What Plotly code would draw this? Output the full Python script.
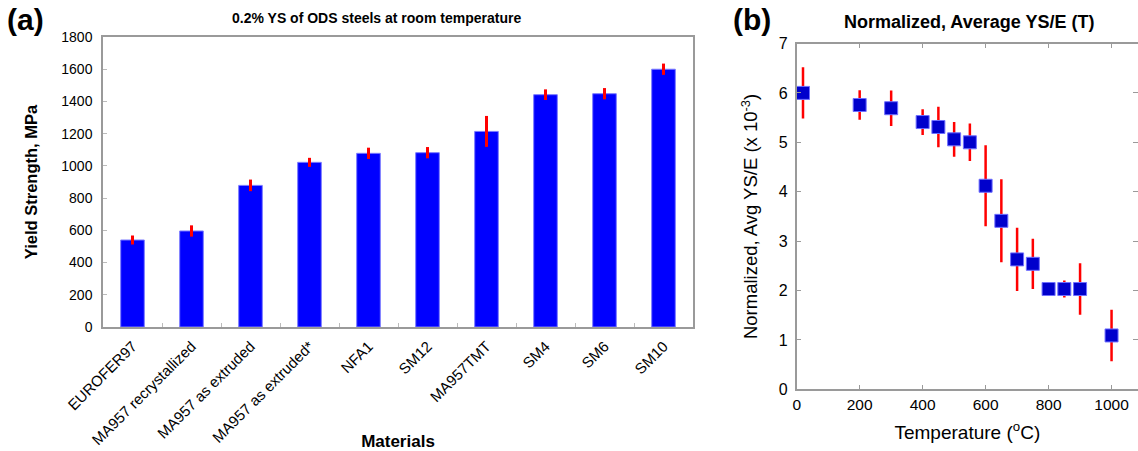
import plotly.graph_objects as go

materials = ["EUROFER97", "MA957 recrystallized", "MA957 as extruded", "MA957 as extruded*",
             "NFA1", "SM12", "MA957TMT", "SM4", "SM6", "SM10"]
ys_mpa = [540, 596, 879, 1022, 1078, 1082, 1214, 1442, 1448, 1600]
ys_err = [28, 35, 36, 28, 35, 35, 96, 33, 35, 35]

temps = [20, 200, 300, 400, 450, 500, 550, 600, 650, 700, 750, 800, 850, 900, 1000]
ys_e = [6.0, 5.755, 5.69, 5.41, 5.31, 5.06, 5.0, 4.12, 3.41, 2.63, 2.54, 2.03, 2.03, 2.03, 1.09]
ys_e_err = [0.52, 0.3, 0.36, 0.26, 0.41, 0.35, 0.38, 0.82, 0.84, 0.64, 0.51, 0.14, 0.17, 0.52, 0.52]

FONT = "Liberation Sans, Arial, sans-serif"
AX = "#9a9a9a"

fig = go.Figure()
fig.add_trace(go.Bar(
    x=materials, y=ys_mpa, width=0.4,
    marker=dict(color="#0000FF", line=dict(color="#7b7bff", width=1)),
    error_y=dict(type="data", array=ys_err, color="#FF0000", thickness=3, width=0),
    xaxis="x", yaxis="y", showlegend=False))

fig.add_trace(go.Scatter(
    x=temps, y=ys_e, mode="markers",
    marker=dict(symbol="square", size=13, color="#0000CC", line=dict(color="#6f6fff", width=1)),
    error_y=dict(type="data", array=ys_e_err, color="#FF0000", thickness=2.5, width=0),
    xaxis="x2", yaxis="y2", showlegend=False))

fig.update_layout(
    width=1138, height=451, margin=dict(l=0, r=0, t=0, b=0, autoexpand=False),
    paper_bgcolor="white", plot_bgcolor="white",
    font=dict(family=FONT, color="black"),
    xaxis=dict(domain=[103/1138, 693/1138], type="category", range=[-0.5, 9.5],
               showline=True, linecolor=AX, linewidth=1.5, mirror=True,
               ticks="inside", tickson="boundaries", ticklen=4, tickcolor="#bbbbbb",
               tickangle=-45, tickfont=dict(size=15), ticklabelstandoff=3,
               showgrid=False, anchor="y", automargin=False,
               title=dict(text="<b>Materials</b>", font=dict(size=17), standoff=2)),
    yaxis=dict(domain=[(451-327)/451, (451-37)/451], range=[0, 1800], dtick=200,
               showline=True, linecolor=AX, linewidth=1.5, mirror=True,
               ticks="inside", ticklen=4, tickcolor="#bbbbbb", tickfont=dict(size=14),
               ticklabelstandoff=6,
               showgrid=False, zeroline=False, anchor="x", automargin=False,
               title=dict(text="<b>Yield Strength, MPa</b>", font=dict(size=16.5), standoff=20)),
    xaxis2=dict(domain=[796.7/1138, 1.0], range=[0, 1084], dtick=200,
                showline=True, linecolor=AX, linewidth=1.5, mirror="allticks",
                ticks="inside", ticklen=5, tickcolor=AX, tickfont=dict(size=15.5),
                showgrid=False, zeroline=False, anchor="y2", automargin=False,
                title=dict(text="Temperature (<sup>o</sup>C)", font=dict(size=19), standoff=14)),
    yaxis2=dict(domain=[(451-389.3)/451, (451-43.5)/451], range=[0, 7], dtick=1,
                showline=True, linecolor=AX, linewidth=1.5, mirror="allticks",
                ticks="inside", ticklen=5, tickcolor=AX, tickfont=dict(size=16),
                ticklabelstandoff=4,
                showgrid=False, zeroline=False, anchor="x2", automargin=False,
                title=dict(text="Normalized, Avg YS/E (x 10<sup>-3</sup>)", font=dict(size=18.5), standoff=16)),
    annotations=[
        dict(text="<b>(a)</b>", x=5/1138, y=1-1/451, xref="paper", yref="paper",
             xanchor="left", yanchor="top", showarrow=False, font=dict(size=30)),
        dict(text="<b>(b)</b>", x=731/1138, y=1-1/451, xref="paper", yref="paper",
             xanchor="left", yanchor="top", showarrow=False, font=dict(size=30)),
        dict(text="<b>0.2% YS of ODS steels at room temperature</b>", x=376/1138, y=1-18/451,
             xref="paper", yref="paper", xanchor="center", yanchor="middle",
             showarrow=False, font=dict(size=14)),
        dict(text="<b>Normalized, Average YS/E (T)</b>", x=969/1138, y=1-22/451,
             xref="paper", yref="paper", xanchor="center", yanchor="middle",
             showarrow=False, font=dict(size=18)),
    ],
)

fig.write_html("out.html")
